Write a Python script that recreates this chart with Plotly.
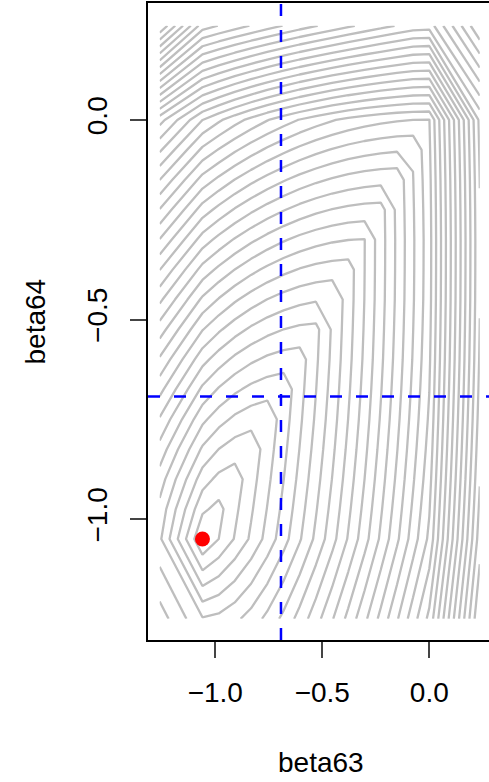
import math
import numpy as np
import plotly.graph_objects as go

# grid nodes of the likelihood surface
beta63 = [-1.26, -1.06, -0.984, -0.909, -0.833, -0.757, -0.681, -0.606, -0.530,
          -0.454, -0.379, -0.303, -0.227, -0.151, -0.076, 0.0, 0.236]
beta64 = [-1.25, -1.05, -0.975, -0.9, -0.825, -0.75, -0.675, -0.6, -0.525,
          -0.45, -0.375, -0.3, -0.225, -0.15, -0.075, 0.0, 0.236]

# contour-level profiles (inner grid, 15 x 15)
# below the ridge: level grows to the right, small dip going up
rise_right = [0, 1.00, 2.07, 3.18, 4.36, 5.59, 6.88, 8.23, 9.63, 11.09, 12.60, 14.18, 15.81, 17.49, 19.24]
drop_up = [0, 0.32, 0.61, 0.86, 1.08, 1.26, 1.41, 1.51, 1.59, 1.62, 1.63, 1.59, 1.52, 1.41, 1.27]
# above the ridge: level on the ridge plus a bend towards the left edge
ridge = [0, 0.68, 1.46, 2.32, 3.28, 4.33, 5.47, 6.72, 8.04, 9.47, 10.97, 12.59, 14.29, 16.08, 17.97]
bend = [0, 0.52, 0.2525, 0.1678, 0.1238, 0.098, 0.0806, 0.068, 0.0588, 0.0514,
        0.0458, 0.0409, 0.0369, 0.0337, 0.0308]

# outer rows / columns
left_col = [7.5, 5.2, 5.69, 6.53, 7.63, 8.90, 10.33, 11.86, 13.50, 15.23, 17.03, 18.95, 20.94, 23.01, 25.17, 27.40, 41]
right_col = [31, 29.54, 29.22, 28.93, 28.68, 28.46, 28.28, 28.13, 28.03, 27.95, 27.92, 27.91, 27.95, 28.02, 28.13, 28.27, 35]
bottom_row = [5.1, 5.29, 5.76, 6.43, 7.28, 8.27, 9.38, 10.60, 11.91, 13.29, 14.75, 16.29, 17.89, 19.55, 21.28]
top_row = [35.5, 34.97, 34.45, 33.95, 33.45, 32.97, 32.5, 32.05, 31.6, 31.17, 30.75, 30.34, 29.94, 29.56, 29.47]

mle = (-1.06, -1.05)
ref = math.log(0.5)

n = len(beta63)
z = np.zeros((n, n))
for j in range(n):
    for i in range(n):
        if i == 0:
            z[j, i] = left_col[j]
        elif i == n - 1:
            z[j, i] = right_col[j]
        elif j == 0:
            z[j, i] = bottom_row[i - 1]
        elif j == n - 1:
            z[j, i] = top_row[i - 1]
        else:
            a, b = i - 1, j - 1
            if b > a:
                z[j, i] = ridge[b] + bend[b] * (b - a) ** 2
            else:
                z[j, i] = rise_right[a] - drop_up[b]

fig = go.Figure()
fig.add_trace(go.Contour(x=beta63, y=beta64, z=z,
                         contours=dict(start=1, end=45, size=1, coloring='none'),
                         line=dict(color='#BEBEBE', width=2.3, smoothing=0),
                         showscale=False, hoverinfo='skip'))
fig.add_trace(go.Scatter(x=[mle[0]], y=[mle[1]], mode='markers',
                         marker=dict(color='red', size=15), hoverinfo='skip'))
fig.add_vline(x=ref, line=dict(color='blue', width=2.5, dash='12px,14px'))
fig.add_hline(y=ref, line=dict(color='blue', width=2.5, dash='12px,14px'))

ticks = [-1.0, -0.5, 0.0]
labels = ['\u22121.0', '\u22120.5', '0.0']
fig.update_layout(width=489, height=782, margin=dict(l=148, r=0, t=3, b=142),
                  plot_bgcolor='white', paper_bgcolor='white', showlegend=False,
                  font=dict(family='Liberation Sans, Arial', size=28, color='black'))
fig.update_xaxes(range=[-1.3145, 0.279], tickvals=ticks, ticktext=labels, automargin=False,
                 showline=True, mirror=True, linecolor='black', linewidth=2,
                 ticks='outside', ticklen=16, tickwidth=2, ticklabelstandoff=10,
                 showgrid=False, zeroline=False)
fig.update_yaxes(range=[-1.303, 0.293], tickvals=ticks, ticktext=labels, automargin=False,
                 showline=True, mirror=False, linecolor='black', linewidth=2,
                 ticks='outside', ticklen=16, tickwidth=2, tickangle=-90, ticklabelstandoff=12,
                 showgrid=False, zeroline=False)
fig.add_annotation(text='beta63', xref='paper', yref='paper', x=(321 - 148) / 341, y=-(762 - 640) / 637,
                   showarrow=False, xanchor='center', yanchor='middle')
fig.add_annotation(text='beta64', xref='paper', yref='paper', x=-(148 - 35) / 341, y=0.5,
                   showarrow=False, xanchor='center', yanchor='middle', textangle=-90)
fig.write_html("out.html", config={'displayModeBar': False},
               post_script="document.body.style.margin='0';")
